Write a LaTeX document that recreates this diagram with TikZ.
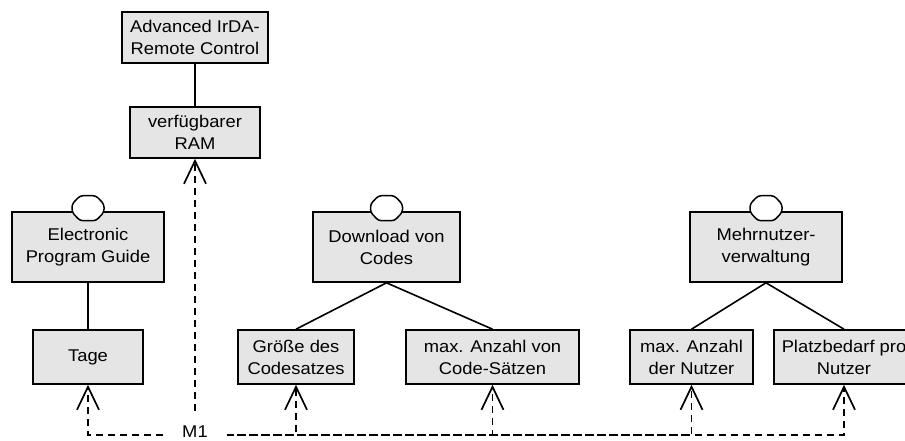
\documentclass[tikz,border=0pt]{standalone}
\usepackage{fontspec}
\setmainfont[FakeStretch=1.08]{Liberation Sans}
\usetikzlibrary{arrows.meta}

% marker drawn on top of a feature box
\tikzset{
  optmark/.pic={
    \draw[line width=1.5pt, fill=white, rounded corners=3pt]
      (-8,-12.5) -- (8,-12.5) -- (16,-4) -- (16,4) -- (8,12.5)
      -- (-8,12.5) -- (-16,4) -- (-16,-4) -- cycle;
  }
}

\begin{document}
\begin{tikzpicture}[x=1pt,y=-1pt,
  label font/.style={font=\fontsize{17}{22}\selectfont},
  feature/.style={draw=black, fill=black!10, line width=1.6pt, align=center,
    inner sep=0pt, label font},
  tree/.style={line width=1.6pt},
  req/.style={line width=1.9pt, dash pattern=on 7pt off 5pt,
    -{Straight Barb[length=23pt,width=22pt,line width=1.7pt]}},
]
\useasboundingbox (0,0) rectangle (905,441);
\clip (0,0) rectangle (905,441);

% feature boxes
\node[feature, minimum width=146pt, minimum height=51pt] (adv) at (195,37.5) {Advanced IrDA-\\Remote Control};
\node[feature, minimum width=130pt, minimum height=51pt] (ram) at (195,132.5) {verfügbarer\\RAM};
\node[feature, minimum width=152pt, minimum height=70pt] (epg) at (88,247) {Electronic\\Program Guide};
\node[feature, minimum width=110pt, minimum height=54pt] (tage) at (88,357) {Tage};
\node[feature, minimum width=147pt, minimum height=70pt] (dl) at (386.5,247) {Download von\\Codes};
\node[feature, minimum width=116pt, minimum height=54pt] (gr) at (296,357) {Größe des\\Codesatzes};
\node[feature, minimum width=173pt, minimum height=54pt] (mac) at (492.5,357) {max. Anzahl von\\Code-Sätzen};
\node[feature, minimum width=152pt, minimum height=70pt] (mehr) at (766,247) {Mehrnutzer-\\verwaltung};
\node[feature, minimum width=123pt, minimum height=54pt] (man) at (691.5,357) {max. Anzahl\\der Nutzer};
\node[feature, minimum width=140pt, minimum height=54pt] (platz) at (844,357) {Platzbedarf pro\\Nutzer};

% optional markers
\pic at ([yshift=3pt]epg.north) {optmark};
\pic at ([yshift=3pt]dl.north) {optmark};
\pic at ([yshift=3pt]mehr.north) {optmark};

% decomposition
\draw[tree] (adv.south) -- (ram.north);
\draw[tree] (epg.south) -- (tage.north);
\draw[tree] (dl.south) -- (gr.north);
\draw[tree] (dl.south) -- (mac.north);
\draw[tree] (mehr.south) -- (man.north);
\draw[tree] (mehr.south) -- (platz.north);

% measure and its dependencies
\node[label font, inner xsep=19pt, inner ysep=0pt] (m1) at (195,432) {M1};
\draw[req] ([yshift=-3pt]m1.west) -| (tage.south);
\draw[req, shorten <=15pt] (m1.north) -- (ram.south);
\draw[req] ([yshift=-3pt]m1.east) -| (gr.south);
\draw[req] ([yshift=-3pt]m1.east) -| (mac.south);
\draw[req, dash phase=2pt] ([yshift=-3pt]m1.east) -| (man.south);
\draw[req] ([yshift=-3pt]m1.east) -| (platz.south);
\end{tikzpicture}
\end{document}
